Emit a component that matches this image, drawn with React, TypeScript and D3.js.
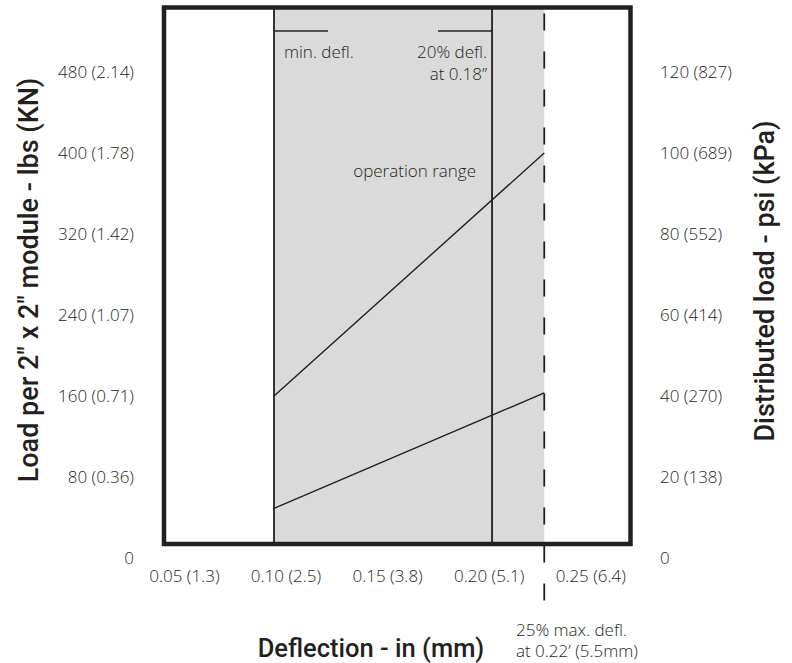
import React from "react";
import * as d3 from "d3";

// ---- data ----
const xTickValues = [0.05, 0.1, 0.15, 0.2, 0.25];
const xTickLabels = ["0.05 (1.3)", "0.10 (2.5)", "0.15 (3.8)", "0.20 (5.1)", "0.25 (6.4)"];
const yTickValues = [0, 80, 160, 240, 320, 400, 480];
const yLeftLabels = ["0", "80 (0.36)", "160 (0.71)", "240 (1.07)", "320 (1.42)", "400 (1.78)", "480 (2.14)"];
const yRightLabels = ["0", "20 (138)", "40 (270)", "60 (414)", "80 (552)", "100 (689)", "120 (827)"];

// marker positions (as drawn on the schematic x scale)
const minDeflX = 0.0941;
const defl20X = 0.2014;
const maxDeflX = 0.2271;

// load lines: [start at min defl, end at max defl] in lbs
const upperLine = [160, 400];
const lowerLine = [49, 163];

const W = 792;
const H = 663;

const FRAME = { left: 164, right: 630.5, top: 7.5, bottom: 544 };

const LABEL_FONT = "'Open Sans', 'Noto Sans', sans-serif";
const TITLE_FONT = "Roboto, 'Noto Sans', sans-serif";

export default function App() {
  const x = d3.scaleLinear().domain([0.05, 0.25]).range([184.4, 590.8]);
  const y = d3.scaleLinear().domain([0, 480]).range([558, 72]);

  const line = d3
    .line<[number, number]>()
    .x((d) => x(d[0]))
    .y((d) => y(d[1]));

  const upperPts: [number, number][] = [
    [minDeflX, upperLine[0]],
    [maxDeflX, upperLine[1]],
  ];
  const lowerPts: [number, number][] = [
    [minDeflX, lowerLine[0]],
    [maxDeflX, lowerLine[1]],
  ];

  const dark = "#231f20";
  const labelStyle: React.CSSProperties = {
    fontFamily: LABEL_FONT,
    fontWeight: 300,
    fontSize: 17,
    fill: dark,
  };
  const titleStyle: React.CSSProperties = {
    fontFamily: TITLE_FONT,
    fontWeight: 500,
    fontSize: 27,
    fill: dark,
  };

  return (
    <svg
      width={W}
      height={H}
      viewBox={`0 0 ${W} ${H}`}
      style={{ position: "absolute", left: 0, top: 0, background: "#fff" }}
    >
      {/* shaded operation zone */}
      <rect
        x={x(minDeflX)}
        y={FRAME.top}
        width={x(maxDeflX) - x(minDeflX)}
        height={FRAME.bottom - FRAME.top}
        fill="#dadada"
      />

      {/* vertical solid markers */}
      {[minDeflX, defl20X].map((v, i) => (
        <line
          key={i}
          x1={x(v)}
          x2={x(v)}
          y1={FRAME.top}
          y2={FRAME.bottom}
          stroke={dark}
          strokeWidth={1.8}
        />
      ))}

      {/* top leader lines */}
      <line x1={x(minDeflX)} x2={x(minDeflX) + 54} y1={31} y2={31} stroke={dark} strokeWidth={1.6} />
      <line x1={x(defl20X) - 54} x2={x(defl20X)} y1={31} y2={31} stroke={dark} strokeWidth={1.6} />

      {/* dashed max deflection line */}
      <line
        x1={x(maxDeflX)}
        x2={x(maxDeflX)}
        y1={FRAME.top}
        y2={605}
        stroke={dark}
        strokeWidth={1.8}
        strokeDasharray="17 21"
        strokeDashoffset={-6}
      />

      {/* load lines */}
      <path d={line(upperPts) || ""} fill="none" stroke={dark} strokeWidth={1.4} />
      <path d={line(lowerPts) || ""} fill="none" stroke={dark} strokeWidth={1.4} />

      {/* frame */}
      <rect
        x={FRAME.left}
        y={FRAME.top}
        width={FRAME.right - FRAME.left}
        height={FRAME.bottom - FRAME.top}
        fill="none"
        stroke={dark}
        strokeWidth={4.5}
      />

      {/* left tick labels */}
      {yTickValues.map((v, i) => (
        <text key={"l" + i} x={134} y={y(v)} dy="0.35em" textAnchor="end" style={labelStyle}>
          {yLeftLabels[i]}
        </text>
      ))}
      {/* right tick labels */}
      {yTickValues.map((v, i) => (
        <text key={"r" + i} x={660} y={y(v)} dy="0.35em" textAnchor="start" style={labelStyle}>
          {yRightLabels[i]}
        </text>
      ))}
      {/* x tick labels */}
      {xTickValues.map((v, i) => (
        <text key={"x" + i} x={x(v)} y={576} dy="0.35em" textAnchor="middle" style={labelStyle}>
          {xTickLabels[i]}
        </text>
      ))}

      {/* annotations */}
      <text x={x(minDeflX) + 10} y={58} style={labelStyle}>
        min. defl.
      </text>
      <text x={x(defl20X) - 5} y={58} textAnchor="end" style={labelStyle}>
        20% defl.
      </text>
      <text x={x(defl20X) - 5} y={80} textAnchor="end" style={labelStyle}>
        at 0.18”
      </text>
      <text x={476} y={177} textAnchor="end" style={labelStyle}>
        operation range
      </text>
      <text x={516} y={636} style={labelStyle}>
        25% max. defl.
      </text>
      <text x={516} y={657} style={labelStyle}>
        at 0.22’ (5.5mm)
      </text>

      {/* axis titles */}
      <text x={371} y={657} textAnchor="middle" style={{ ...titleStyle, fontSize: 25.5 }}>
        Deflection - in (mm)
      </text>
      <text
        transform={`translate(29, 280) rotate(-90)`}
        textAnchor="middle"
        dy="0.35em"
        style={titleStyle}
      >
        Load per 2" x 2" module - lbs (KN)
      </text>
      <text
        transform={`translate(765, 281) rotate(-90)`}
        textAnchor="middle"
        dy="0.35em"
        style={titleStyle}
      >
        Distributed load - psi (kPa)
      </text>
    </svg>
  );
}
